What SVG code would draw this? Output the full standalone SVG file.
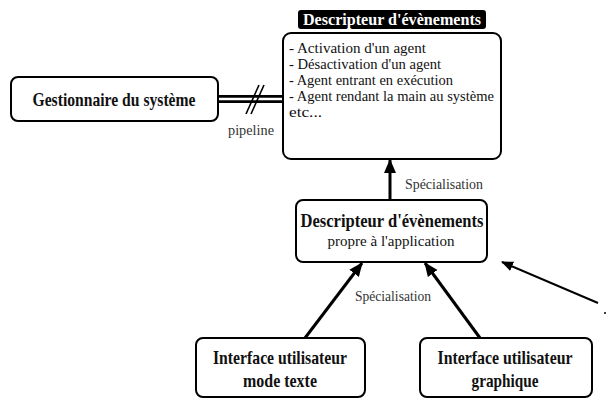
<svg xmlns="http://www.w3.org/2000/svg" width="606" height="401" viewBox="0 0 606 401">
<style>
.box{fill:#fff;stroke:#000;stroke-width:2}
.t{font-family:"Liberation Serif",serif;fill:#111}
.b{font-weight:bold;font-size:19px}
.s{font-size:14px}
.lbl{font-family:"Liberation Serif",serif;font-size:14px;fill:#333}
.arr{stroke:#000;stroke-width:3;fill:none}
</style>
<defs>
<marker id="ah" markerUnits="userSpaceOnUse" markerWidth="14" markerHeight="14" refX="13" refY="7" orient="auto">
<path d="M0,1 L14,7 L0,13 Z" fill="#000"/>
</marker>
<marker id="ahs" markerUnits="userSpaceOnUse" markerWidth="12" markerHeight="12" refX="11" refY="6" orient="auto">
<path d="M0,1 L12,6 L0,11 Z" fill="#000"/>
</marker>
</defs>
<rect width="606" height="401" fill="#fff"/>
<g id="connectors">
<line x1="218" y1="99" x2="284" y2="99" stroke="#000" stroke-width="8"/>
<line x1="218" y1="99" x2="284" y2="99" stroke="#fff" stroke-width="2.5"/>
<line x1="246" y1="114" x2="259" y2="85" stroke="#000" stroke-width="1.6"/>
<line x1="251" y1="114" x2="264" y2="85" stroke="#000" stroke-width="1.6"/>
<text class="lbl" x="251" y="135" text-anchor="middle" textLength="46" lengthAdjust="spacingAndGlyphs">pipeline</text>
<line class="arr" x1="390" y1="200" x2="390" y2="160" marker-end="url(#ah)"/>
<text class="lbl" x="405" y="189" textLength="78" lengthAdjust="spacingAndGlyphs">Spécialisation</text>
<line class="arr" x1="305" y1="338" x2="362" y2="263" marker-end="url(#ah)"/>
<line class="arr" x1="480" y1="338" x2="425" y2="263" marker-end="url(#ah)"/>
<text class="lbl" x="355" y="301" textLength="76" lengthAdjust="spacingAndGlyphs">Spécialisation</text>
<line x1="598" y1="303" x2="502" y2="262" stroke="#000" stroke-width="2" marker-end="url(#ahs)"/>
<circle cx="605" cy="313" r="1" fill="#000"/>
</g>
<g id="gestionnaire">
<rect class="box" x="11" y="77" width="207" height="44" rx="7"/>
<text class="t b" x="114" y="106" text-anchor="middle" textLength="163" lengthAdjust="spacingAndGlyphs">Gestionnaire du système</text>
</g>
<g id="descripteur">
<rect class="box" x="283" y="33" width="218" height="126" rx="8"/>
<rect x="298" y="10" width="188" height="19" rx="3" fill="#000"/>
<text x="392" y="25" text-anchor="middle" font-family="Liberation Serif, serif" font-weight="bold" font-size="17" fill="#fff" textLength="178" lengthAdjust="spacingAndGlyphs">Descripteur d'évènements</text>
<text class="t s" x="289" y="53" textLength="137" lengthAdjust="spacingAndGlyphs">- Activation d'un agent</text>
<text class="t s" x="289" y="69" textLength="152" lengthAdjust="spacingAndGlyphs">- Désactivation d'un agent</text>
<text class="t s" x="289" y="85" textLength="164" lengthAdjust="spacingAndGlyphs">- Agent entrant en exécution</text>
<text class="t s" x="289" y="101" textLength="205" lengthAdjust="spacingAndGlyphs">- Agent rendant la main au système</text>
<text class="t s" x="289" y="117" textLength="33" lengthAdjust="spacingAndGlyphs">etc...</text>
</g>
<g id="descripteur-app">
<rect class="box" x="296" y="200" width="191" height="62" rx="7"/>
<text class="t b" x="392" y="227" text-anchor="middle" textLength="183" lengthAdjust="spacingAndGlyphs">Descripteur d'évènements</text>
<text class="t s" x="391" y="246" text-anchor="middle" textLength="127" lengthAdjust="spacingAndGlyphs">propre à l'application</text>
</g>
<g id="ui-texte">
<rect class="box" x="196" y="338" width="169" height="59" rx="7"/>
<text class="t b" x="280" y="364" text-anchor="middle" textLength="134" lengthAdjust="spacingAndGlyphs">Interface utilisateur</text>
<text class="t b" x="280" y="387" text-anchor="middle" textLength="74" lengthAdjust="spacingAndGlyphs">mode texte</text>
</g>
<g id="ui-graphique">
<rect class="box" x="420" y="338" width="172" height="59" rx="7"/>
<text class="t b" x="505" y="364" text-anchor="middle" textLength="135" lengthAdjust="spacingAndGlyphs">Interface utilisateur</text>
<text class="t b" x="505" y="387" text-anchor="middle" textLength="67" lengthAdjust="spacingAndGlyphs">graphique</text>
</g>
</svg>
